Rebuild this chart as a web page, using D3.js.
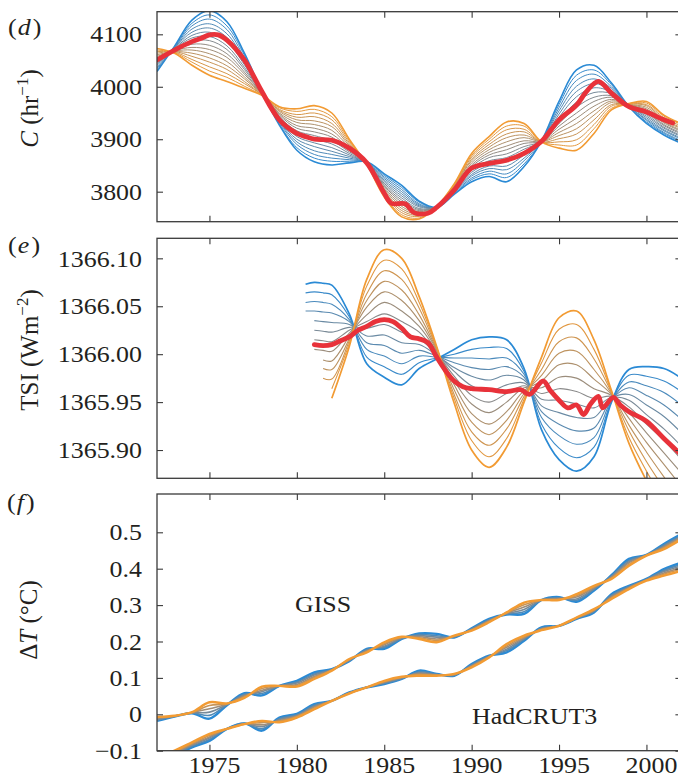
<!DOCTYPE html>
<html><head><meta charset="utf-8">
<script src="https://cdn.jsdelivr.net/npm/d3@7"></script>
<style>
body{margin:0;background:#fff;}
</style></head><body>
<svg id="chart" width="678" height="783"></svg>
<script>
// ---------- DATA ----------
const xTicks=[1975,1980,1985,1990,1995,2000];
const dTicks=[3800,3900,4000,4100];
const eTicks=[1365.90,1365.95,1366.00,1366.05,1366.10];
const fTicks=[-0.1,0,0.1,0.2,0.3,0.4,0.5];

// panel (d): 16 curves (blue -> orange), one row per year
const dYears=[1972,1973,1974,1975,1976,1977,1978,1979,1980,1981,1982,1983,1984,1985,1986,1987,1988,1989,1990,1991,1992,1993,1994,1995,1996,1997,1998,1999,2000,2001,2002];
const dFan=[
[4029,4032,4035,4038,4041,4044,4047,4050,4052,4055,4058,4061,4064,4067,4070,4073],
[4077,4076,4075,4074,4074,4073,4072,4071,4070,4069,4068,4067,4067,4066,4065,4064],
[4127,4121,4116,4110,4104,4098,4093,4087,4081,4075,4070,4064,4058,4052,4047,4041],
[4145,4137,4129,4120,4112,4104,4096,4088,4079,4071,4063,4055,4047,4038,4030,4022],
[4124,4116,4109,4101,4094,4086,4078,4071,4063,4056,4048,4040,4033,4025,4018,4010],
[4064,4060,4055,4051,4046,4042,4037,4033,4028,4024,4019,4015,4010,4006,4001,3997],
[3991,3991,3990,3990,3989,3989,3988,3988,3987,3987,3986,3986,3985,3985,3984,3984],
[3927,3929,3932,3934,3936,3939,3941,3943,3946,3948,3950,3953,3955,3957,3960,3962],
[3879,3884,3890,3895,3900,3905,3911,3916,3921,3926,3932,3937,3942,3947,3953,3958],
[3857,3864,3871,3878,3886,3893,3900,3907,3914,3921,3928,3935,3943,3950,3957,3964],
[3851,3858,3864,3871,3877,3884,3891,3897,3904,3910,3917,3924,3930,3937,3943,3950],
[3855,3858,3861,3864,3867,3870,3873,3876,3879,3882,3885,3888,3891,3894,3897,3900],
[3857,3857,3856,3856,3856,3855,3855,3855,3854,3854,3854,3853,3853,3853,3852,3852],
[3834,3831,3828,3825,3822,3819,3816,3813,3811,3808,3805,3802,3799,3796,3793,3790],
[3812,3808,3804,3800,3796,3792,3788,3784,3780,3776,3772,3768,3764,3760,3756,3752],
[3782,3780,3777,3775,3773,3771,3768,3766,3764,3762,3759,3757,3755,3753,3750,3748],
[3770,3770,3770,3770,3771,3771,3771,3771,3771,3771,3771,3771,3772,3772,3772,3772],
[3795,3796,3798,3799,3800,3802,3803,3804,3806,3807,3808,3810,3811,3812,3814,3815],
[3819,3823,3826,3830,3833,3837,3841,3844,3848,3851,3855,3859,3862,3866,3869,3873],
[3829,3834,3839,3844,3849,3854,3859,3865,3870,3875,3880,3885,3890,3895,3900,3905],
[3819,3827,3834,3842,3849,3857,3865,3872,3880,3887,3895,3903,3910,3918,3925,3933],
[3848,3853,3859,3864,3870,3875,3881,3886,3892,3897,3903,3908,3914,3919,3925,3930],
[3897,3897,3897,3897,3896,3896,3896,3896,3896,3896,3896,3896,3895,3895,3895,3895],
[3972,3966,3960,3954,3948,3942,3936,3930,3925,3919,3913,3907,3901,3895,3889,3883],
[4032,4022,4012,4001,3991,3981,3971,3961,3950,3940,3930,3920,3910,3899,3889,3879],
[4041,4032,4024,4015,4006,3998,3989,3980,3972,3963,3954,3946,3937,3928,3920,3911],
[4007,4004,4000,3997,3993,3990,3987,3983,3980,3976,3973,3970,3966,3963,3959,3956],
[3962,3962,3963,3963,3964,3964,3964,3965,3965,3966,3966,3966,3967,3967,3968,3968],
[3930,3933,3936,3938,3941,3944,3947,3950,3952,3955,3958,3961,3964,3966,3969,3972],
[3908,3911,3913,3916,3918,3921,3923,3926,3928,3931,3933,3936,3938,3941,3944,3946],
[3892,3895,3897,3900,3902,3905,3907,3910,3912,3915,3917,3920,3922,3925,3928,3930]
];
const dRedYears=[1972,1973,1974,1974.5,1975,1975.5,1976,1977,1977.5,1978,1979,1980,1980.5,1981,1982,1983,1984,1985,1985.4,1986.2,1986.7,1987.5,1988,1989,1990,1991,1992,1993,1994,1995,1996,1996.5,1997,1997.3,1998,1999,2000,2001,2001.5];
const dRed=[4051,4070,4086,4092,4099,4099,4089,4051,4022,3991,3937,3911,3905,3900,3898,3883,3855,3797,3778,3777,3760,3759,3770,3803,3845,3854,3860,3873,3896,3937,3965,3988,4006,4010,3988,3962,3952,3937,3931];

// panel (e): 13 curves, one row per year (null = not started yet)
const eYears=[1980.5,1981,1981.5,1982,1983,1984,1985,1986,1987,1988,1989,1990,1991,1992,1993,1994,1995,1996,1997,1998,1999,2000,2001,2002];
const eFan=[
[1366.073,1366.064,1366.054,1366.045,null,null,null,null,null,null,null,null,null],
[1366.075,1366.065,1366.055,1366.045,1366.035,1366.025,1366.015,1366.005,null,null,null,null,null],
[1366.074,1366.064,1366.054,1366.044,1366.034,1366.024,1366.014,1366.004,1365.994,1365.985,1365.975,null,null],
[1366.072,1366.062,1366.052,1366.043,1366.033,1366.023,1366.013,1366.003,1365.993,1365.984,1365.974,1365.964,1365.954],
[1366.042,1366.039,1366.036,1366.034,1366.031,1366.028,1366.025,1366.022,1366.019,1366.016,1366.014,1366.011,1366.008],
[1365.990,1365.997,1366.005,1366.012,1366.019,1366.027,1366.034,1366.041,1366.049,1366.056,1366.063,1366.071,1366.078],
[1365.976,1365.987,1365.998,1366.009,1366.020,1366.031,1366.042,1366.054,1366.065,1366.076,1366.087,1366.098,1366.109],
[1365.968,1365.979,1365.990,1366.001,1366.012,1366.023,1366.034,1366.045,1366.056,1366.067,1366.078,1366.089,1366.100],
[1365.985,1365.991,1365.998,1366.004,1366.010,1366.016,1366.023,1366.029,1366.035,1366.041,1366.048,1366.054,1366.060],
[1365.995,1365.996,1365.997,1365.998,1365.999,1366.000,1366.001,1366.003,1366.004,1366.005,1366.006,1366.007,1366.008],
[1366.005,1366.000,1365.996,1365.991,1365.986,1365.982,1365.977,1365.972,1365.968,1365.963,1365.958,1365.954,1365.949],
[1366.015,1366.005,1365.996,1365.986,1365.977,1365.967,1365.957,1365.948,1365.938,1365.929,1365.919,1365.910,1365.900],
[1366.018,1366.007,1365.995,1365.984,1365.973,1365.961,1365.950,1365.939,1365.927,1365.916,1365.905,1365.893,1365.882],
[1366.015,1366.006,1365.996,1365.987,1365.978,1365.968,1365.959,1365.950,1365.940,1365.931,1365.922,1365.912,1365.903],
[1365.985,1365.982,1365.979,1365.976,1365.973,1365.970,1365.967,1365.965,1365.962,1365.959,1365.956,1365.953,1365.950],
[1365.921,1365.927,1365.934,1365.940,1365.946,1365.953,1365.959,1365.965,1365.972,1365.978,1365.984,1365.991,1365.997],
[1365.890,1365.902,1365.915,1365.927,1365.939,1365.952,1365.964,1365.976,1365.989,1366.001,1366.013,1366.026,1366.038],
[1365.878,1365.892,1365.906,1365.920,1365.934,1365.948,1365.961,1365.975,1365.989,1366.003,1366.017,1366.031,1366.045],
[1365.893,1365.903,1365.913,1365.923,1365.934,1365.944,1365.954,1365.964,1365.974,1365.984,1365.995,1366.005,1366.015],
[1365.950,1365.951,1365.952,1365.953,1365.954,1365.955,1365.956,1365.957,1365.958,1365.959,1365.960,1365.961,1365.962],
[1365.984,1365.978,1365.971,1365.965,1365.958,1365.952,1365.945,1365.939,1365.933,1365.926,1365.920,1365.913,1365.907],
[1365.987,1365.977,1365.967,1365.957,1365.947,1365.937,1365.927,1365.918,1365.908,1365.898,1365.888,1365.878,1365.868],
[1365.985,1365.972,1365.960,1365.947,1365.935,1365.922,1365.910,1365.897,1365.885,1365.872,1365.860,1365.847,1365.835],
[1365.975,1365.961,1365.947,1365.932,1365.918,1365.904,1365.890,1365.876,1365.862,1365.847,1365.833,1365.819,1365.805]
];
const eRedYears=[1981,1981.5,1982,1982.5,1983,1983.5,1984,1984.5,1985,1985.5,1986,1986.5,1987,1987.5,1988,1988.5,1989,1989.5,1990,1991,1992,1992.8,1993.3,1994.1,1994.5,1995,1995.5,1996,1996.4,1996.8,1997.25,1997.5,1998.1,1998.5,1999,2000,2001,2002];
const eRed=[1366.010,1366.009,1366.010,1366.014,1366.018,1366.025,1366.029,1366.034,1366.036,1366.034,1366.027,1366.018,1366.016,1366.012,1365.997,1365.983,1365.972,1365.966,1365.964,1365.963,1365.961,1365.963,1365.958,1365.972,1365.962,1365.952,1365.944,1365.947,1365.937,1365.948,1365.956,1365.944,1365.955,1365.947,1365.940,1365.930,1365.912,1365.895];

// panel (f): 6 curves each for GISS and HadCRUT3, one row per year
const fYears=dYears;
const gissFan=[
[-0.018,-0.016,-0.014,-0.011,-0.009,-0.007],
[-0.006,-0.006,-0.005,-0.005,-0.004,-0.004],
[0.003,0.004,0.004,0.005,0.005,0.006],
[-0.012,-0.003,0.006,0.015,0.024,0.033],
[0.025,0.026,0.027,0.028,0.029,0.030],
[0.058,0.055,0.053,0.050,0.048,0.045],
[0.052,0.057,0.062,0.066,0.071,0.076],
[0.078,0.078,0.078,0.078,0.078,0.078],
[0.092,0.089,0.086,0.082,0.079,0.076],
[0.115,0.111,0.108,0.104,0.101,0.097],
[0.124,0.123,0.122,0.122,0.121,0.120],
[0.146,0.147,0.148,0.150,0.151,0.152],
[0.180,0.178,0.176,0.174,0.172,0.170],
[0.180,0.184,0.187,0.191,0.194,0.198],
[0.207,0.208,0.209,0.211,0.212,0.213],
[0.222,0.219,0.216,0.213,0.210,0.207],
[0.221,0.216,0.212,0.207,0.203,0.198],
[0.211,0.212,0.213,0.214,0.215,0.216],
[0.236,0.235,0.234,0.232,0.231,0.230],
[0.262,0.260,0.258,0.257,0.255,0.253],
[0.274,0.275,0.276,0.278,0.279,0.280],
[0.276,0.282,0.288,0.295,0.301,0.307],
[0.314,0.314,0.314,0.314,0.314,0.314],
[0.322,0.320,0.319,0.317,0.316,0.314],
[0.309,0.313,0.317,0.322,0.326,0.330],
[0.340,0.343,0.345,0.348,0.350,0.353],
[0.382,0.380,0.378,0.376,0.374,0.372],
[0.427,0.423,0.419,0.416,0.412,0.408],
[0.438,0.438,0.437,0.437,0.436,0.436],
[0.468,0.465,0.462,0.460,0.457,0.454],
[0.495,0.492,0.489,0.487,0.484,0.481]
];
const hadFan=[
[-0.135,-0.132,-0.128,-0.125,-0.121,-0.118],
[-0.115,-0.112,-0.109,-0.106,-0.103,-0.100],
[-0.091,-0.088,-0.085,-0.083,-0.080,-0.077],
[-0.073,-0.069,-0.065,-0.062,-0.058,-0.054],
[-0.040,-0.040,-0.040,-0.040,-0.040,-0.040],
[-0.025,-0.025,-0.026,-0.026,-0.027,-0.027],
[-0.045,-0.040,-0.034,-0.029,-0.023,-0.018],
[-0.009,-0.012,-0.014,-0.017,-0.019,-0.022],
[0.001,-0.001,-0.003,-0.005,-0.007,-0.009],
[0.028,0.025,0.022,0.020,0.017,0.014],
[0.037,0.037,0.037,0.037,0.037,0.037],
[0.060,0.059,0.059,0.058,0.058,0.057],
[0.074,0.074,0.074,0.074,0.074,0.074],
[0.083,0.085,0.087,0.088,0.090,0.092],
[0.097,0.098,0.099,0.101,0.102,0.103],
[0.120,0.117,0.114,0.112,0.109,0.106],
[0.111,0.110,0.109,0.108,0.107,0.106],
[0.106,0.107,0.108,0.109,0.110,0.111],
[0.138,0.136,0.134,0.133,0.131,0.129],
[0.161,0.160,0.159,0.158,0.157,0.156],
[0.170,0.175,0.179,0.184,0.188,0.193],
[0.202,0.205,0.208,0.210,0.213,0.216],
[0.239,0.237,0.236,0.234,0.233,0.231],
[0.243,0.243,0.243,0.243,0.243,0.243],
[0.262,0.263,0.264,0.264,0.265,0.266],
[0.280,0.282,0.284,0.285,0.287,0.289],
[0.330,0.327,0.325,0.322,0.320,0.317],
[0.353,0.351,0.349,0.348,0.346,0.344],
[0.372,0.371,0.370,0.369,0.368,0.367],
[0.399,0.395,0.392,0.388,0.385,0.381],
[0.417,0.412,0.408,0.403,0.399,0.394]
];

// ---------- DRAWING ----------
const FONT='"Liberation Serif","Times New Roman",Times,serif';
const INK="#231f20";
const svg=d3.select("#chart");
const L=157, R=681.4, S=1.08;
const x=d3.scaleLinear().domain([1972,2002]).range([L,R]);
const panels={
  d:{top:11.7,bottom:221.7,dom:[3742.8,4143.1]},
  e:{top:238.3,bottom:478.3,dom:[1365.8705,1366.1209]},
  f:{top:494,bottom:750.7,dom:[-0.1,0.6052]}
};
for(const k in panels){const p=panels[k];p.y=d3.scaleLinear().domain(p.dom).range([p.bottom,p.top]);}
const fanColor=d3.piecewise(d3.interpolateRgb,["#2a8ad5","#8a8a8a","#f29b33"]);
const lineGen=(y)=>d3.line().defined(d=>d[1]!=null).x(d=>x(d[0])).y(d=>y(d[1])).curve(d3.curveCatmullRom.alpha(0.5));

const defs=svg.append("defs");
function clipFor(id,p){
  defs.append("clipPath").attr("id",id).append("rect").attr("x",L).attr("y",p.top).attr("width",R-L).attr("height",p.bottom-p.top);
  return svg.append("g").attr("clip-path",`url(#${id})`);
}
function drawFan(g,years,rows,y,w,wEdge){
  const n=rows[0].length;
  for(let k=0;k<n;k++){
    const pts=years.map((yr,i)=>[yr,rows[i][k]]);
    g.append("path").attr("d",lineGen(y)(pts)).attr("fill","none")
     .attr("stroke",fanColor(k/(n-1)))
     .attr("stroke-width",(k===0||k===n-1)?wEdge:w);
  }
}
function drawRed(g,years,vals,y){
  g.append("path").attr("d",lineGen(y)(years.map((yr,i)=>[yr,vals[i]])))
   .attr("fill","none").attr("stroke","#e8323a").attr("stroke-width",4.8)
   .attr("stroke-linejoin","round").attr("stroke-linecap","round");
}

// marks
const gd=clipFor("cd",panels.d);
drawFan(gd,dYears,dFan,panels.d.y,1.0,1.6);
drawRed(gd,dRedYears,dRed,panels.d.y);
const ge=clipFor("ce",panels.e);
drawFan(ge,eYears,eFan,panels.e.y,1.1,1.7);
drawRed(ge,eRedYears,eRed,panels.e.y);
const gf=clipFor("cf",panels.f);
drawFan(gf,fYears,gissFan,panels.f.y,1.6,2.4);
drawFan(gf,fYears,hadFan,panels.f.y,1.6,2.4);

// axes & frames
function frame(p,ticks,fmt,showX){
  const g=svg.append("g");
  const styleAx=a=>{a.attr("font-size",null).attr("font-family",null).attr("color","#3a3a3a");a.select(".domain").remove();a.selectAll("line").attr("stroke-width",1.1);};
  const la=g.append("g").attr("transform",`translate(${L},0)`)
    .call(d3.axisLeft(p.y).tickValues(ticks).tickSize(-6).tickPadding(15).tickFormat(fmt));
  styleAx(la);
  la.selectAll("text").attr("transform",`scale(${S},1)`).attr("x",-15/S)
    .style("font-family",FONT).style("font-size","24px").style("fill",INK);
  const ra=g.append("g").attr("transform",`translate(${R},0)`)
    .call(d3.axisRight(p.y).tickValues(ticks).tickSize(-6).tickFormat(""));
  styleAx(ra);
  const ta=g.append("g").attr("transform",`translate(0,${p.top})`)
    .call(d3.axisTop(x).tickValues(xTicks).tickSize(-6).tickFormat(""));
  styleAx(ta);
  const ba=g.append("g").attr("transform",`translate(0,${p.bottom})`)
    .call(d3.axisBottom(x).tickValues(xTicks).tickSize(-6).tickPadding(5).tickFormat(showX?d3.format("d"):""));
  styleAx(ba);
  if(showX) ba.selectAll("text").attr("transform",`scale(${S},1)`).attr("x",4.5/S)
    .style("font-family",FONT).style("font-size","24px").style("fill",INK);
  g.append("rect").attr("x",L).attr("y",p.top).attr("width",R-L).attr("height",p.bottom-p.top)
    .attr("fill","none").attr("stroke","#3a3a3a").attr("stroke-width",1.3);
}
frame(panels.d,dTicks,d3.format("d"),false);
frame(panels.e,eTicks,d=>d.toFixed(2),false);
frame(panels.f,fTicks,d=>d===0?"0":(d<0?"\u2212"+Math.abs(d).toFixed(1):d.toFixed(1)),true);

function txt(sel,size){return sel.style("font-family",FONT).style("font-size",size+"px").style("fill",INK);}

// panel letters
function letter(t0,xp,yp){
  const t=txt(svg.append("text"),24).attr("x",xp/S).attr("y",yp).attr("transform",`scale(${S},1)`);
  t.append("tspan").text("(");
  t.append("tspan").style("font-style","italic").attr("dx",1).text(t0);
  t.append("tspan").attr("dx",2).text(")");
}
letter("d",8,35);
letter("e",8,253);
letter("f",7,510);

// y titles
function ytitle(parts,xp,yp){
  const t=txt(svg.append("text"),25).attr("transform",`translate(${xp},${yp}) rotate(-90)`)
    .attr("text-anchor","middle");
  parts.forEach(pt=>{
    const s=t.append("tspan").text(pt.t);
    if(pt.i) s.style("font-style","italic");
    if(pt.sup) s.style("font-size","17px").attr("dy",-10);
    if(pt.down) s.attr("dy",10);
  });
}
ytitle([{t:"C",i:true},{t:" (hr"},{t:"\u22121",sup:true},{t:")",down:true}],37.5,108.5);
ytitle([{t:"TSI (Wm"},{t:"\u22122",sup:true},{t:")",down:true}],38,350);
ytitle([{t:"\u0394"},{t:"T",i:true},{t:" (\u00B0C)"}],37,620);

// dataset labels
txt(svg.append("text"),24).attr("x",295/S).attr("y",612).attr("transform",`scale(${S},1)`).text("GISS");
txt(svg.append("text"),24).attr("x",472/S).attr("y",724).attr("transform",`scale(${S},1)`).text("HadCRUT3");
</script>
</body></html>
